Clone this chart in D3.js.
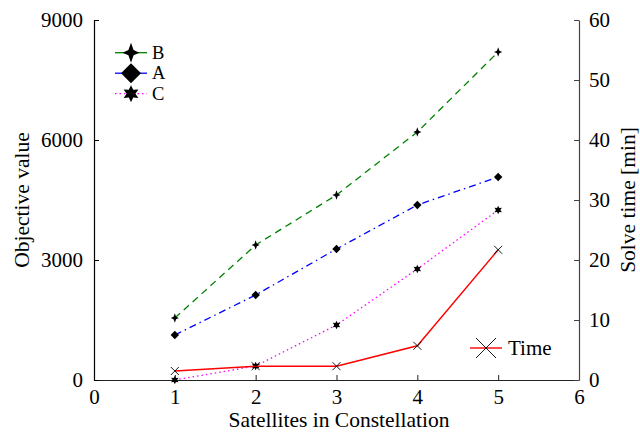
<!DOCTYPE html>
<html>
<head>
<meta charset="utf-8">
<script src="https://cdn.jsdelivr.net/npm/d3@7"></script>
<style>
  body { margin: 0; background: #fff; }
  svg { display: block; font-family: "Liberation Serif", serif; }
</style>
</head>
<body>
<svg id="chart" width="640" height="432"></svg>
<script>
// values
const satellites = [1, 2, 3, 4, 5];
const seriesB = [1550, 3375, 4625, 6200, 8200];
const seriesA = [1125, 2125, 3275, 4375, 5075];
const seriesC = [0, 350, 1375, 2775, 4250];
const solveTime = [1.5, 2.3, 2.3, 5.7, 21.7];

const xTicks = [0, 1, 2, 3, 4, 5, 6];
const leftTicks = [0, 3000, 6000, 9000];
const rightTicks = [0, 10, 20, 30, 40, 50, 60];

const legendNames = ["B", "A", "C"];

const width = 640;
const height = 432;
const margin = { top: 20, right: 61, bottom: 52, left: 94 };
const fontSize = 21;
const titleSize = 21.5;

const svg = d3.select("#chart");

const x = d3
  .scaleLinear()
  .domain([0, 6])
  .range([margin.left, width - margin.right]);

const yLeft = d3
  .scaleLinear()
  .domain([0, 9000])
  .range([height - margin.bottom, margin.top]);

const yRight = d3
  .scaleLinear()
  .domain([0, 60])
  .range([height - margin.bottom, margin.top]);

// marker shapes, size is used as radius squared
const star4 = {
  draw(ctx, size) {
    const r = Math.sqrt(size);
    const w = r * 0.85;
    const k = r * 0.26;
    ctx.moveTo(0, -r);
    ctx.lineTo(k, -k);
    ctx.lineTo(w, 0);
    ctx.lineTo(k, k);
    ctx.lineTo(0, r);
    ctx.lineTo(-k, k);
    ctx.lineTo(-w, 0);
    ctx.lineTo(-k, -k);
    ctx.closePath();
  }
};

const diamond = {
  draw(ctx, size) {
    const r = Math.sqrt(size);
    ctx.moveTo(0, -r);
    ctx.lineTo(r, 0);
    ctx.lineTo(0, r);
    ctx.lineTo(-r, 0);
    ctx.closePath();
  }
};

const hexagram = {
  draw(ctx, size) {
    const r = Math.sqrt(size);
    const ri = r * 0.52;
    for (let i = 0; i < 12; i++) {
      const a = (i * Math.PI) / 6 - Math.PI / 2;
      const rr = i % 2 === 0 ? r : ri;
      if (i === 0) ctx.moveTo(rr * Math.cos(a), rr * Math.sin(a));
      else ctx.lineTo(rr * Math.cos(a), rr * Math.sin(a));
    }
    ctx.closePath();
  }
};

const cross = {
  draw(ctx, size) {
    const r = Math.sqrt(size);
    ctx.moveTo(-r, -r);
    ctx.lineTo(r, r);
    ctx.moveTo(-r, r);
    ctx.lineTo(r, -r);
  }
};

const series = [
  { name: "B", values: seriesB, color: "#008000", dash: "7,5", shape: star4, r: 4.8, lr: 10 },
  { name: "A", values: seriesA, color: "#0000ff", dash: "7,4,1.5,4", shape: diamond, r: 4.2, lr: 10 },
  { name: "C", values: seriesC, color: "#ff00ff", dash: "1.5,3", shape: hexagram, r: 4.3, lr: 8.5 }
];

// axes
const xAxis = d3
  .axisBottom(x)
  .tickValues(xTicks)
  .tickFormat(d3.format("d"))
  .tickSizeInner(-5)
  .tickSizeOuter(0)
  .tickPadding(9);

const leftAxis = d3
  .axisLeft(yLeft)
  .tickValues(leftTicks)
  .tickFormat(d3.format("d"))
  .tickSizeInner(-5)
  .tickSizeOuter(0)
  .tickPadding(11);

const rightAxis = d3
  .axisRight(yRight)
  .tickValues(rightTicks)
  .tickFormat(d3.format("d"))
  .tickSizeInner(-5)
  .tickSizeOuter(0)
  .tickPadding(10);

const styleAxis = (g, color) => {
  g.attr("font-size", fontSize).attr("font-family", "Liberation Serif, serif");
  g.select(".domain").attr("stroke", color).attr("stroke-width", 1.2);
  g.selectAll(".tick line").attr("stroke", color);
  g.selectAll(".tick text").attr("fill", "#000");
};

svg
  .append("g")
  .attr("transform", `translate(0,${height - margin.bottom})`)
  .call(xAxis)
  .call(g => styleAxis(g, "#222"));

svg
  .append("g")
  .attr("transform", `translate(${margin.left},0)`)
  .call(leftAxis)
  .call(g => styleAxis(g, "#000"));

svg
  .append("g")
  .attr("transform", `translate(${width - margin.right},0)`)
  .call(rightAxis)
  .call(g => styleAxis(g, "#444"));

// axis titles
svg
  .append("text")
  .attr("transform", `translate(22,${(margin.top + height - margin.bottom) / 2}) rotate(-90)`)
  .attr("text-anchor", "middle")
  .attr("dy", "0.33em")
  .attr("font-size", titleSize)
  .text("Objective value");

svg
  .append("text")
  .attr("transform", `translate(628,${(margin.top + height - margin.bottom) / 2}) rotate(-90)`)
  .attr("text-anchor", "middle")
  .attr("dy", "0.33em")
  .attr("font-size", titleSize)
  .text("Solve time [min]");

svg
  .append("text")
  .attr("x", 339)
  .attr("y", 427)
  .attr("text-anchor", "middle")
  .attr("font-size", titleSize)
  .text("Satellites in Constellation");

// objective series
const line = d3
  .line()
  .x((d, i) => x(satellites[i]))
  .y(d => yLeft(d));

series.forEach(s => {
  svg
    .append("path")
    .datum(s.values)
    .attr("fill", "none")
    .attr("stroke", s.color)
    .attr("stroke-width", 1.3)
    .attr("stroke-dasharray", s.dash)
    .attr("d", line);

  svg
    .append("g")
    .selectAll("path")
    .data(s.values)
    .enter()
    .append("path")
    .attr("transform", (d, i) => `translate(${x(satellites[i])},${yLeft(d)})`)
    .attr("d", d3.symbol().type(s.shape).size(s.r * s.r))
    .attr("fill", "#000");
});

// solve time series
const timeLine = d3
  .line()
  .x((d, i) => x(satellites[i]))
  .y(d => yRight(d));

svg
  .append("path")
  .datum(solveTime)
  .attr("fill", "none")
  .attr("stroke", "#ff0000")
  .attr("stroke-width", 1.4)
  .attr("d", timeLine);

svg
  .append("g")
  .selectAll("path")
  .data(solveTime)
  .enter()
  .append("path")
  .attr("transform", (d, i) => `translate(${x(satellites[i])},${yRight(d)})`)
  .attr("d", d3.symbol().type(cross).size(16))
  .attr("fill", "none")
  .attr("stroke", "#000")
  .attr("stroke-width", 0.9);

// legend, top left
const legend = svg
  .append("g")
  .selectAll("g")
  .data(series)
  .enter()
  .append("g")
  .attr("transform", (d, i) => `translate(115,${52.7 + i * 20.5})`);

legend
  .append("line")
  .attr("x1", 0)
  .attr("x2", 32)
  .attr("stroke", d => d.color)
  .attr("stroke-width", 1.3)
  .attr("stroke-dasharray", d => (d.name === "C" ? "1.5,3" : null));

legend
  .append("path")
  .attr("transform", "translate(16,0)")
  .attr("d", d => d3.symbol().type(d.shape).size(d.lr * d.lr)())
  .attr("fill", "#000");

legend
  .append("text")
  .attr("x", 37)
  .attr("dy", "0.33em")
  .attr("font-size", 18.5)
  .text((d, i) => legendNames[i]);

// legend, bottom right
const timeLegend = svg.append("g").attr("transform", "translate(470,348)");

timeLegend
  .append("line")
  .attr("x1", 0)
  .attr("x2", 32)
  .attr("stroke", "#ff0000")
  .attr("stroke-width", 1.4);

timeLegend
  .append("path")
  .attr("transform", "translate(16,0)")
  .attr("d", d3.symbol().type(cross).size(100)())
  .attr("fill", "none")
  .attr("stroke", "#000")
  .attr("stroke-width", 0.9);

timeLegend
  .append("text")
  .attr("x", 38)
  .attr("dy", "0.33em")
  .attr("font-size", fontSize)
  .text("Time");
</script>
</body>
</html>
